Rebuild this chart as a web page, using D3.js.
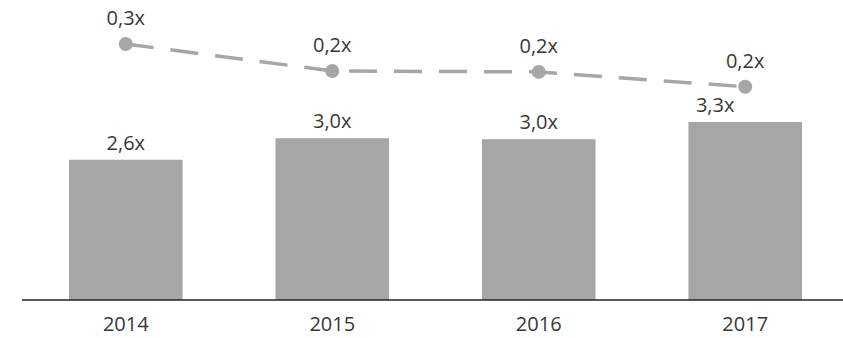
<!DOCTYPE html>
<html>
<head>
<meta charset="utf-8">
<script src="https://cdn.jsdelivr.net/npm/d3@7"></script>
<style>
  html, body { margin: 0; padding: 0; background: #fff; }
  text { font-family: "Open Sans", "Noto Sans", sans-serif; fill: #383838; }
</style>
</head>
<body>
<div id="chart"></div>
<script>
// chart values
var years = ["2014", "2015", "2016", "2017"];
var barValues = [2.6, 3.0, 2.98, 3.3];
var barLabels = ["2,6x", "3,0x", "3,0x", "3,3x"];
var lineValues = [0.27, 0.21, 0.208, 0.175];
var lineLabels = ["0,3x", "0,2x", "0,2x", "0,2x"];

var width = 843, height = 338;
var baseY = 300;
var fontSize = 20;

var svg = d3.select("#chart").append("svg")
    .attr("width", width)
    .attr("height", height);

//x band for the bars
var x = d3.scaleBand()
    .domain(years)
    .range([24, 847])
    .paddingInner(0.45)
    .paddingOuter(0.218);

//bars scale, ~54px per unit
var y = d3.scaleLinear().domain([0, 3.3]).range([baseY, baseY - 178]);

//line scale sits in the upper part
var y2 = d3.scaleLinear().domain([0, 0.27]).range([165.5, 44]);

var cx = function(d) { return x(d) + x.bandwidth() / 2; };

//bars
svg.selectAll(".bar")
    .data(years)
  .enter().append("rect")
    .attr("class", "bar")
    .attr("x", function(d) { return x(d); })
    .attr("width", x.bandwidth())
    .attr("y", function(d, i) { return y(barValues[i]); })
    .attr("height", function(d, i) { return baseY - y(barValues[i]); })
    .attr("fill", "#a6a6a6");

//baseline axis
var xAxis = d3.axisBottom(x).tickSize(0).tickPadding(17);
var gx = svg.append("g")
    .attr("transform", "translate(0," + baseY + ")")
    .call(xAxis);
gx.select(".domain")
    .attr("d", "M22,0H843")
    .attr("stroke", "#222")
    .attr("stroke-width", 1.5);
gx.selectAll(".tick text")
    .attr("font-size", fontSize)
    .attr("fill", "#383838")
    .style("font-family", "'Open Sans', 'Noto Sans', sans-serif");

//bar labels; the last one steps aside from the line point
svg.selectAll(".barlabel")
    .data(years)
  .enter().append("text")
    .attr("class", "barlabel")
    .attr("text-anchor", "middle")
    .attr("font-size", fontSize)
    .attr("x", function(d, i) {
      var clash = y(barValues[i]) - 28 < y2(lineValues[i]) + 8;
      return cx(d) - (clash ? 30 : 0);
    })
    .attr("y", function(d, i) { return y(barValues[i]) - 10; })
    .text(function(d, i) { return barLabels[i]; });

//dashed line
var line = d3.line()
    .x(function(d, i) { return cx(years[i]); })
    .y(function(d) { return y2(d); });

svg.append("path")
    .datum(lineValues)
    .attr("d", line)
    .attr("fill", "none")
    .attr("stroke", "#a6a6a6")
    .attr("stroke-width", 3.5)
    .attr("stroke-dasharray", "28,17");

svg.selectAll(".dot")
    .data(lineValues)
  .enter().append("circle")
    .attr("class", "dot")
    .attr("cx", function(d, i) { return cx(years[i]); })
    .attr("cy", function(d) { return y2(d); })
    .attr("r", 7)
    .attr("fill", "#a6a6a6");

svg.selectAll(".linelabel")
    .data(lineValues)
  .enter().append("text")
    .attr("class", "linelabel")
    .attr("text-anchor", "middle")
    .attr("font-size", fontSize)
    .attr("x", function(d, i) { return cx(years[i]); })
    .attr("y", function(d) { return y2(d) - 19; })
    .text(function(d, i) { return lineLabels[i]; });
</script>
</body>
</html>
